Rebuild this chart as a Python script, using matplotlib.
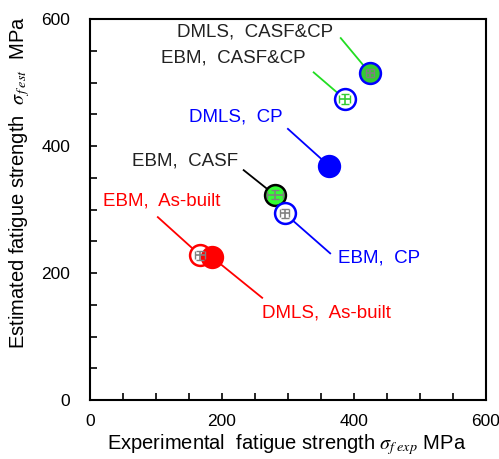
import numpy as np
import matplotlib.pyplot as plt
from matplotlib.ticker import MultipleLocator

plt.rcParams['font.family'] = ['Liberation Sans', 'DejaVu Sans']
plt.rcParams['mathtext.fontset'] = 'stix'

# data (MPa)
labels = ["DMLS,  CASF&CP", "EBM,  CASF&CP", "DMLS,  CP", "EBM,  CASF",
          "EBM,  CP", "EBM,  As-built", "DMLS,  As-built"]
sig_exp = [424, 386, 362, 280, 295, 167, 185]
sig_est = [515, 474, 369, 323, 294, 228, 225]
err_x = [6, 8, 0, 12, 7, 7, 0]
err_y = [6, 8, 0, 7, 7, 7, 0]

face = ['#33cc33', 'white', 'blue', '#33ff33', 'white', 'white', 'red']
edge = ['blue', 'blue', 'blue', 'black', 'blue', 'red', 'red']
errc = ['gray', '#33cc33', 'gray', 'gray', 'gray', 'gray', 'gray']
txtc = ['#222222', '#222222', 'blue', '#222222', 'blue', 'red', 'red']
linec = ['#22dd22', '#22dd22', 'blue', 'black', 'blue', 'red', 'red']

# label anchor (x, y, ha) and leader line end, in data units
text_pos = [(132, 580, 'left'), (327, 539, 'right'), (292, 446, 'right'),
            (224, 376, 'right'), (376, 224, 'left'), (20, 313, 'left'),
            (261, 137, 'left')]
line_end = [(380, 570), (339, 516), (300, 427), (233, 362),
            (364, 231), (103, 288), (261, 161)]

fig = plt.figure(figsize=(4.99, 4.59), dpi=100)
ax = fig.add_axes([0.180, 0.1285, 0.794, 0.830])

for i in range(len(labels)):
    ax.plot([sig_exp[i], line_end[i][0]], [sig_est[i], line_end[i][1]],
            color=linec[i], lw=1.3, zorder=1)
    ax.plot(sig_exp[i], sig_est[i], 'o', ms=15, mfc=face[i], mec=edge[i],
            mew=1.8, zorder=2)
    if err_x[i] > 0:
        ax.errorbar(sig_exp[i], sig_est[i], xerr=err_x[i], yerr=err_y[i],
                    fmt='none', ecolor=errc[i], elinewidth=1.2, capsize=3,
                    zorder=3)
    tx, ty, ha = text_pos[i]
    ax.text(tx, ty, labels[i], color=txtc[i], fontsize=13.5, ha=ha, va='center')

ax.set_xlim(0, 600)
ax.set_ylim(0, 600)
ax.xaxis.set_major_locator(MultipleLocator(200))
ax.yaxis.set_major_locator(MultipleLocator(200))
ax.xaxis.set_minor_locator(MultipleLocator(50))
ax.yaxis.set_minor_locator(MultipleLocator(50))
ax.tick_params(which='both', direction='in', labelsize=12.5, width=1.2)
ax.tick_params(which='major', length=5)
ax.tick_params(axis='x', which='major', pad=10)
ax.tick_params(axis='y', which='major', pad=14)
ax.tick_params(which='minor', length=5)
for s in ax.spines.values():
    s.set_linewidth(1.5)

ax.set_xlabel(r'Experimental  fatigue strength $\sigma_{f\;exp}$ MPa', fontsize=14.5)
ax.set_ylabel(r'Estimated fatigue strength  $\sigma_{f\;est}$  MPa', fontsize=14.5)
ax.xaxis.set_label_coords(0.497, -0.083)
ax.yaxis.set_label_coords(-0.145, 0.57)

plt.savefig('out.png', dpi=100)
